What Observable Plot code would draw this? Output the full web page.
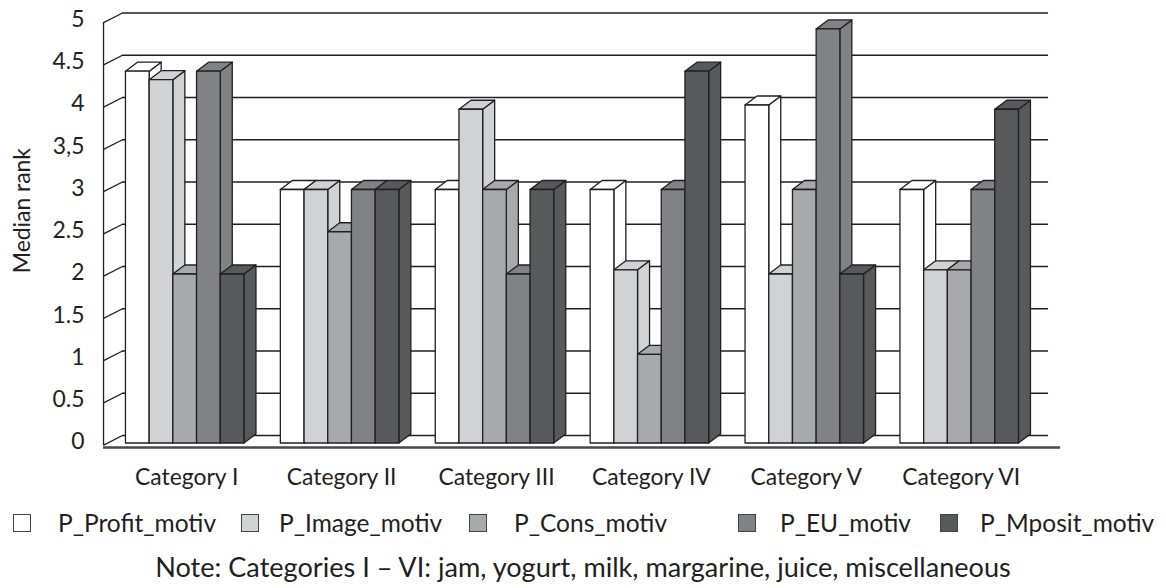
<!DOCTYPE html>
<html>
<head>
<meta charset="utf-8">
<script src="https://cdn.jsdelivr.net/npm/d3@7"></script>
<script src="https://cdn.jsdelivr.net/npm/@observablehq/plot@0.6"></script>
<style>
  html, body { margin: 0; padding: 0; background: #fff; }
  body { width: 1166px; height: 588px; overflow: hidden; font-family: Lato, "Noto Sans", sans-serif; color: #231f20; }
  #chart svg { display: block; }
  #legend { position: relative; height: 44px; width: 1166px; }
  .sw { position: absolute; top: 14px; width: 16px; height: 16px; border: 1.5px solid #444; box-sizing: content-box; }
  .lt { position: absolute; top: 8px; line-height: 30px; white-space: nowrap; }
  #note { text-align: center; line-height: 30px; margin-top: 8px; white-space: nowrap; }
</style>
</head>
<body>
<div id="chart"></div>
<div id="legend"></div>
<div id="note"></div>
<script>
// ---- data ----
const categories = ["Category I", "Category II", "Category III", "Category IV", "Category V", "Category VI"];
const seriesNames = ["P_Profit_motiv", "P_Image_motiv", "P_Cons_motiv", "P_EU_motiv", "P_Mposit_motiv"];
const pProfit = [4.4, 3, 3, 3, 4, 3];
const pImage  = [4.3, 3, 3.95, 2.05, 2, 2.05];
const pCons   = [2, 2.5, 3, 1.05, 3, 2.05];
const pEU     = [4.4, 3, 2, 3, 4.9, 3];
const pMposit = [2, 3, 3, 4.4, 2, 3.95];
const yTicks = [0, 0.5, 1, 1.5, 2, 2.5, 3, 3.5, 4, 4.5, 5];
const yTickLabels = ["0", "0.5", "1", "1.5", "2", "2.5", "3", "3,5", "4", "4.5", "5"];
const yTitle = "Median rank";
const noteText = "Note: Categories I \u2013 VI: jam, yogurt, milk, margarine, juice, miscellaneous";

// ---- style ----
const FAMILY = "Lato, 'Noto Sans', sans-serif";
const seriesColors = ["#ffffff", "#d1d2d4", "#a8a9ac", "#818285", "#58595b"];
const ink = "#231f20";
const seriesValues = [pProfit, pImage, pCons, pEU, pMposit];

// fit font sizes to the widths measured on the reference
const ctx = document.createElement("canvas").getContext("2d");
function fit(text, w) { ctx.font = "100px " + FAMILY; return Math.round(10 * 100 * w / ctx.measureText(text).width) / 10; }
const axisFont = Math.min(24, Math.max(18, fit("Category I", 104)));
const legendFont = Math.min(27, Math.max(19, fit("P_Profit_motiv", 158)));
const noteFont = Math.min(28, Math.max(19, fit(noteText, 858)));

// 3D geometry (in scale units)
const BW = 0.153;
const DX = 0.0775, DY = 0.1065;
const WALL_FRONT_X = -0.524, WALL_BACK_X = -0.4015, WALL_BACK_R = 5.577, FLOOR_R = 5.655;
const WALL_FRONT_DY = -0.025, WALL_BACK_DY = 0.089, FLOOR_Y = -0.053;

const faces = [];
let pid = 0;
categories.forEach((cat, i) => {
  seriesNames.forEach((s, j) => {
    const v = seriesValues[j][i];
    const xl = i + (j - 2.5) * BW, xr = xl + BW;
    const polys = [
      [[xr, 0], [xr, v], [xr + DX, v + DY], [xr + DX, DY], [xr, 0]],
      [[xl, v], [xl + DX, v + DY], [xr + DX, v + DY], [xr, v], [xl, v]],
      [[xl, 0], [xl, v], [xr, v], [xr, 0], [xl, 0]]
    ];
    for (const p of polys) {
      pid++;
      for (const [x, y] of p) faces.push({id: pid, series: s, x, y});
    }
  });
});

const chart = Plot.plot({
  width: 1166,
  height: 500,
  margin: 0,
  style: {fontFamily: FAMILY, fontSize: axisFont + "px", color: ink, background: "#fff"},
  x: {type: "linear", domain: [-0.5, 5.5], range: [106.75, 1036.15], axis: null},
  y: {type: "linear", domain: [0, 5], range: [442.5, 20], axis: null},
  color: {domain: seriesNames, range: seriesColors},
  marks: [
    Plot.link(yTicks, {x1: () => WALL_FRONT_X, y1: d => d + WALL_FRONT_DY, x2: () => WALL_BACK_X, y2: d => d + WALL_BACK_DY, stroke: ink, strokeWidth: 1.3}),
    Plot.ruleY(yTicks, {y: d => d + WALL_BACK_DY, x1: () => WALL_BACK_X, x2: () => WALL_BACK_R, stroke: ink, strokeWidth: 1.3}),
    Plot.ruleX([WALL_FRONT_X], {y1: FLOOR_Y + 0.02, y2: 5 + WALL_FRONT_DY, stroke: ink, strokeWidth: 1.3}),
    Plot.ruleY([FLOOR_Y], {x1: WALL_FRONT_X, x2: FLOOR_R, stroke: "#4a4a4a", strokeWidth: 2.5}),
    Plot.line(faces, {x: "x", y: "y", z: "id", fill: "series", stroke: ink, strokeWidth: 1.3, strokeLinejoin: "round", curve: "linear"}),
    Plot.text(yTicks, {x: () => WALL_FRONT_X, y: d => d, text: (d, i) => yTickLabels[i], textAnchor: "end", dx: -19, dy: -1, fill: ink, fontSize: axisFont}),
    Plot.text(categories, {x: (d, i) => i, y: () => 0, text: d => d, dx: 2, dy: 35, fill: ink, fontSize: axisFont}),
    Plot.text([yTitle], {x: () => -1.047, y: () => 2.75, text: d => d, rotate: -90, fill: ink, fontSize: axisFont})
  ]
});
document.getElementById("chart").appendChild(chart);

// legend
const swLeft = [13, 241, 469, 738, 940];
const txtLeft = [58, 279, 514, 780, 980];
const legend = document.getElementById("legend");
seriesNames.forEach((s, j) => {
  const sw = document.createElement("div");
  sw.className = "sw";
  sw.style.left = swLeft[j] + "px";
  sw.style.background = seriesColors[j];
  legend.appendChild(sw);
  const t = document.createElement("div");
  t.className = "lt";
  t.style.left = txtLeft[j] + "px";
  t.style.fontSize = legendFont + "px";
  t.textContent = s;
  legend.appendChild(t);
});
const note = document.getElementById("note");
note.style.fontSize = noteFont + "px";
note.textContent = noteText;
</script>
</body>
</html>
